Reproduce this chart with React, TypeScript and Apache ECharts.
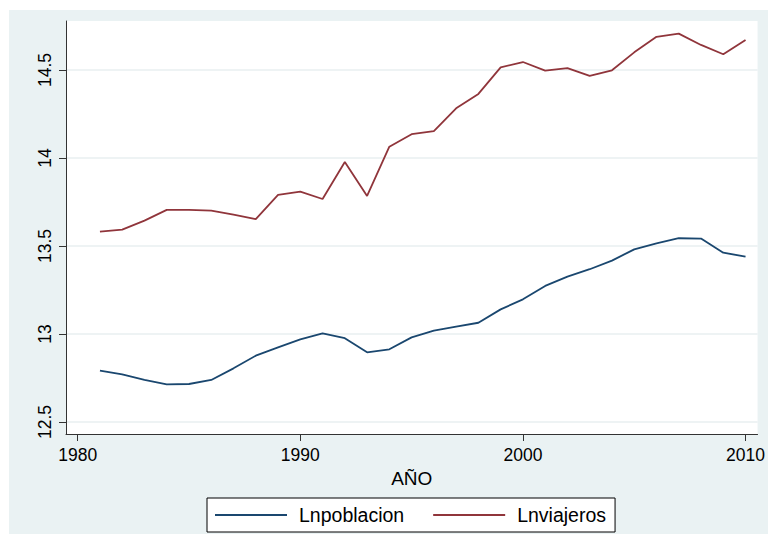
import React, { useEffect, useRef } from "react";
import * as echarts from "echarts";

const years = [1981, 1982, 1983, 1984, 1985, 1986, 1987, 1988, 1989, 1990, 1991, 1992, 1993, 1994, 1995, 1996, 1997, 1998, 1999, 2000, 2001, 2002, 2003, 2004, 2005, 2006, 2007, 2008, 2009, 2010];

const lnpoblacion = [12.792, 12.771, 12.739, 12.714, 12.716, 12.739, 12.805, 12.877, 12.924, 12.970, 13.004, 12.976, 12.896, 12.913, 12.981, 13.019, 13.042, 13.064, 13.140, 13.197, 13.273, 13.326, 13.368, 13.417, 13.481, 13.515, 13.544, 13.542, 13.462, 13.439];

const lnviajeros = [13.581, 13.593, 13.644, 13.705, 13.705, 13.701, 13.678, 13.653, 13.790, 13.809, 13.767, 13.977, 13.784, 14.064, 14.135, 14.153, 14.282, 14.364, 14.515, 14.545, 14.496, 14.510, 14.466, 14.498, 14.600, 14.688, 14.706, 14.642, 14.589, 14.670];

const yTicks = [12.5, 13, 13.5, 14, 14.5];
const xTicks = [1980, 1990, 2000, 2010];

const FONT = "'Liberation Sans', Arial, sans-serif";
const BG = "#EAF2F3";

export default function App() {
  const ref = useRef<HTMLDivElement>(null);
  useEffect(() => {
    if (!ref.current) return;
    const chart = echarts.init(ref.current, undefined, { renderer: "svg" });
    const pair = (arr: number[]) => years.map((y, i) => [y, arr[i]]);
    chart.setOption({
      animation: false,
      backgroundColor: "#ffffff",
      textStyle: { fontFamily: FONT },
      graphic: [
        {
          type: "rect",
          z: -100,
          silent: true,
          shape: { x: 9, y: 10, width: 759, height: 524 },
          style: { fill: BG },
        },
      ],
      grid: {
        left: 66,
        top: 21,
        width: 692,
        height: 413,
        show: true,
        backgroundColor: "#ffffff",
        borderWidth: 0,
      },
      legend: {
        left: 207,
        top: 498,
        orient: "horizontal",
        icon: "rect",
        itemWidth: 72,
        itemHeight: 2,
        itemGap: 29,
        padding: [7, 9, 7, 8],
        borderColor: "#000",
        borderWidth: 1,
        backgroundColor: "#fff",
        textStyle: { fontSize: 19.5, color: "#000", fontFamily: FONT, padding: [0, 0, 0, 7], lineHeight: 20 },
        data: [
          { name: "Lnpoblacion", icon: "rect" },
          { name: "Lnviajeros", icon: "rect" },
        ],
      },
      xAxis: {
        type: "value",
        min: 1979.475,
        max: 2010.54,
        name: "AÑO",
        nameLocation: "middle",
        nameGap: 35,
        nameTextStyle: { fontSize: 19, color: "#000", fontFamily: FONT },
        axisLine: { show: true, onZero: false, lineStyle: { color: "#333", width: 1 } },
        axisTick: { show: true, length: 7, lineStyle: { color: "#333" }, customValues: xTicks },
        axisLabel: {
          fontSize: 17.5,
          color: "#000",
          margin: 12,
          customValues: xTicks,
          fontFamily: FONT,
          formatter: (v: number) => String(Math.round(v)),
        },
        splitLine: { show: false },
      },
      yAxis: {
        type: "value",
        min: 12.432,
        max: 14.778,
        axisLine: { show: true, onZero: false, lineStyle: { color: "#333", width: 1 } },
        axisTick: { show: true, length: 7, lineStyle: { color: "#333" }, customValues: yTicks },
        axisLabel: { fontSize: 17.5, color: "#000", margin: 12, rotate: 90, customValues: yTicks, fontFamily: FONT },
        splitLine: { show: true, lineStyle: { color: "#E8EFF1", width: 1.5 } },
      },
      series: [
        {
          name: "Lnpoblacion",
          type: "line",
          data: pair(lnpoblacion),
          symbol: "none",
          lineStyle: { color: "#1A476F", width: 1.8 },
          itemStyle: { color: "#1A476F" },
        },
        {
          name: "Lnviajeros",
          type: "line",
          data: pair(lnviajeros),
          symbol: "none",
          lineStyle: { color: "#90353B", width: 1.8 },
          itemStyle: { color: "#90353B" },
        },
      ],
    });
    return () => chart.dispose();
  }, []);
  return (
    <div
      ref={ref}
      style={{ position: "fixed", left: 0, top: 0, width: 768, height: 534 }}
    />
  );
}
